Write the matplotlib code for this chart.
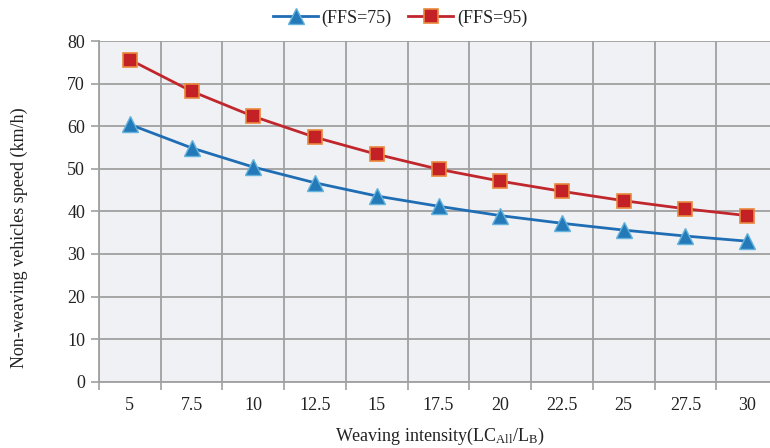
import matplotlib
matplotlib.use("Agg")
import matplotlib.pyplot as plt

plt.rcParams['font.family'] = ['Liberation Serif', 'DejaVu Serif']
plt.rcParams['mathtext.fontset'] = 'custom'
plt.rcParams['mathtext.rm'] = 'Liberation Serif'
plt.rcParams['mathtext.it'] = 'Liberation Serif:italic'

# data
intensity = ['5', '7.5', '10', '12.5', '15', '17.5', '20', '22.5', '25', '27.5', '30']
ffs75 = [60.4, 54.9, 50.4, 46.7, 43.6, 41.2, 39.0, 37.2, 35.6, 34.2, 33.0]
ffs95 = [75.6, 68.2, 62.3, 57.4, 53.4, 49.9, 47.1, 44.7, 42.5, 40.6, 39.0]

W, H = 770, 448
fig = plt.figure(figsize=(W / 100, H / 100), dpi=100)
ax = fig.add_axes([99 / W, (H - 381.7) / H, (778 - 99) / W, (381.7 - 41) / H])
ax.set_facecolor('#f0f1f4')

x = list(range(len(intensity)))
ax.plot(x, ffs75, color='#1f6db4', lw=2, marker='^', ms=11,
        mfc='#2479b8', mec='#63b3dc', mew=1, label='(FFS=75)', zorder=3)
ax.plot(x, ffs95, color='#c0272d', lw=2, marker='s', ms=9.5,
        mfc='#c42127', mec='#e9883d', mew=1.2, label='(FFS=95)', zorder=3)

ax.set_xlim(-0.5, len(intensity) - 0.5)
ax.set_ylim(0, 80)
ax.set_yticks(range(0, 81, 10))
ax.set_xticks(x)
ax.set_xticklabels(intensity)
ax.set_xticks([i - 0.5 for i in range(len(intensity) + 1)], minor=True)
ax.tick_params(axis='x', which='major', length=0, pad=11, labelsize=13, colors='#222222')
ax.tick_params(axis='x', which='minor', length=6, width=1.2, color='#a0a0a0')
ax.tick_params(axis='y', length=6, width=1.2, color='#a0a0a0', labelsize=13,
               labelcolor='#222222', pad=4)

ax.grid(True, which='minor', axis='x', color='#a0a0a0', lw=1.3)
ax.grid(True, which='major', axis='y', color='#a0a0a0', lw=1.3)
ax.set_axisbelow(True)
for s in ['top', 'right']:
    ax.spines[s].set_visible(False)
for s in ['left', 'bottom']:
    ax.spines[s].set_color('#a0a0a0')
    ax.spines[s].set_linewidth(1.3)

fig.text(19 / W, 1 - 238 / H, 'Non-weaving vehicles speed (km/h)', rotation=90,
         ha='center', va='center', fontsize=13, color='#222222')
fig.text(440 / W, 1 - 436 / H, r'Weaving intensity(LC$_{\mathrm{All}}$/L$_{\mathrm{B}}$)',
         ha='center', va='center', fontsize=13, color='#222222')

fig.legend(loc='center', bbox_to_anchor=(400 / W, 1 - 18 / H), ncol=2, frameon=False,
           fontsize=13, handlelength=2.5, columnspacing=0.9, handletextpad=0.2,
           labelcolor='#222222')

fig.savefig('out.png', dpi=100)
